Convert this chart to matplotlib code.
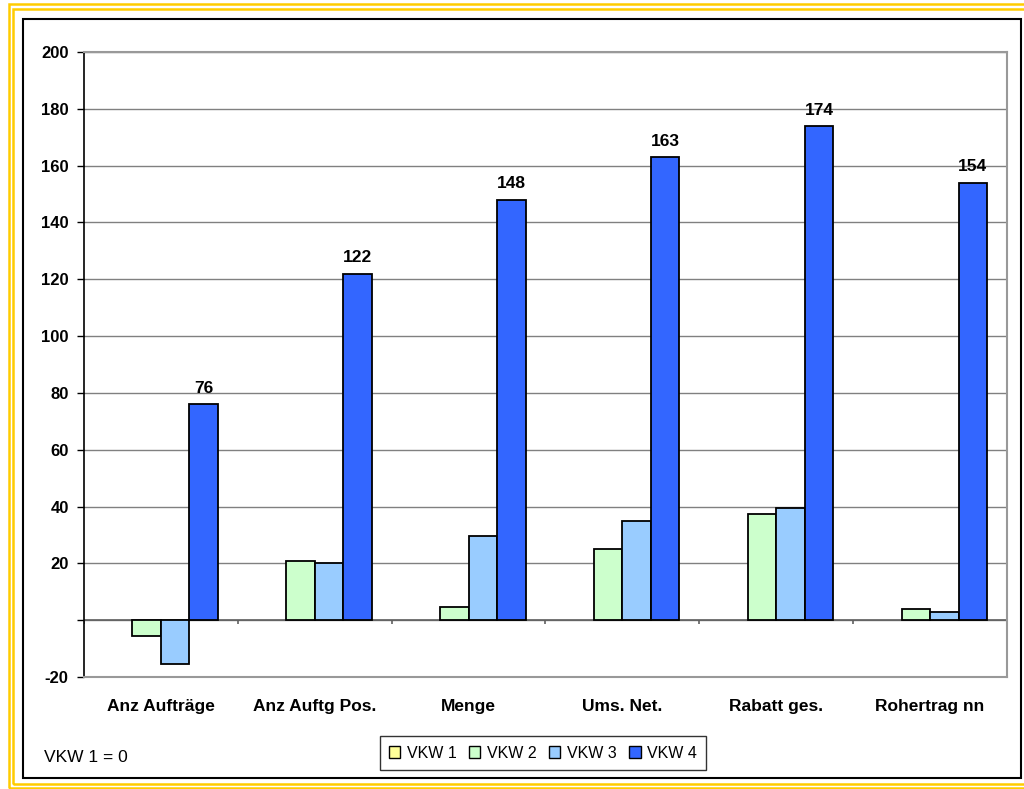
import matplotlib.pyplot as plt
from matplotlib.patches import Rectangle
import numpy as np

plt.rcParams['font.family'] = ['Liberation Sans', 'DejaVu Sans']

# === Data === #
categories = ["Anz Aufträge", "Anz Auftg Pos.", "Menge", "Ums. Net.", "Rabatt ges.", "Rohertrag nn"]
series_names = ["VKW 1", "VKW 2", "VKW 3", "VKW 4"]
vkw1 = [0, 0, 0, 0, 0, 0]
vkw2 = [-5.5, 20.9, 4.5, 25.0, 37.3, 4.0]
vkw3 = [-15.5, 20.3, 29.5, 35.0, 39.4, 2.9]
vkw4 = [76, 122, 148, 163, 174, 154]
colors = ["#FFFF99", "#CCFFCC", "#99CCFF", "#3366FF"]
y_ticks = [-20, 0, 20, 40, 60, 80, 100, 120, 140, 160, 180, 200]

W, H = 1024, 789
fig = plt.figure(figsize=(W / 100, H / 100), dpi=100)

# plot area in pixel coords -> figure fractions
left, top, right, bottom = 84, 52, 1007, 677
ax = fig.add_axes([left / W, 1 - bottom / H, (right - left) / W, (bottom - top) / H])

x = np.arange(len(categories))
w = 0.1853
for i, (vals, col, name) in enumerate(zip([vkw1, vkw2, vkw3, vkw4], colors, series_names)):
    # zero-height bars get no outline so they stay invisible
    lws = [1.3 if v != 0 else 0 for v in vals]
    ax.bar(x + (i - 1.5) * w, vals, width=w, color=col, edgecolor="black",
           linewidth=lws, label=name, zorder=3)

# value labels on VKW 4
for xi, v in zip(x, vkw4):
    ax.annotate(f"{v:g}", (xi + 1.5 * w, v), xytext=(0, 6), textcoords="offset points",
                ha="center", va="bottom", fontsize=12.5, fontweight="bold")

ax.set_xlim(-0.5, len(categories) - 0.5)
ax.set_ylim(-20, 200)
ax.set_yticks(y_ticks)
ax.set_yticklabels(["" if t == 0 else str(t) for t in y_ticks], fontsize=12, fontweight="bold")
ax.tick_params(axis="y", length=5, width=1, pad=6, color="black")
ax.set_xticks(x)
ax.set_xticklabels(categories, fontsize=12.5, fontweight="bold")
ax.tick_params(axis="x", length=0, pad=16)

ax.grid(axis="y", color="#808080", linewidth=1, zorder=0)
ax.axhline(0, color="#606060", linewidth=1.2, zorder=2)
# category boundary ticks on the zero line
ax.vlines(np.arange(-0.5, len(categories)), -1.5, 0, color="#606060", linewidth=1.2, zorder=2)

for s in ["top", "right", "bottom"]:
    ax.spines[s].set_color("#999999")
    ax.spines[s].set_linewidth(1.5)
ax.spines["left"].set_color("black")
ax.spines["left"].set_linewidth(1.2)

leg = fig.legend(loc="center", bbox_to_anchor=(543 / W, 1 - 753 / H), ncol=4,
                 fontsize=11.5, frameon=True, fancybox=False, edgecolor="black",
                 handlelength=0.7, handleheight=0.7, handletextpad=0.4,
                 columnspacing=0.8, borderpad=0.6)
leg.get_frame().set_linewidth(1)
for h in leg.legend_handles:
    h.set_linewidth(1)

fig.text(44 / W, 1 - 757 / H, "VKW 1 = 0", fontsize=12.5, va="center", ha="left")

# === Outer frame === #
def px_rect(x0, y0, x1, y1, color, lw):
    fig.patches.append(Rectangle((x0 / W, 1 - y1 / H), (x1 - x0) / W, (y1 - y0) / H,
                                 transform=fig.transFigure, fill=False,
                                 edgecolor=color, linewidth=lw))

px_rect(23, 19, 1021, 778, "black", 1.5)
px_rect(9, 4, 1040, 788, "#FFCC00", 1.8)
px_rect(13, 9, 1035, 784, "#FFCC00", 1.8)

fig.savefig("out.png", dpi=100, facecolor="white")
